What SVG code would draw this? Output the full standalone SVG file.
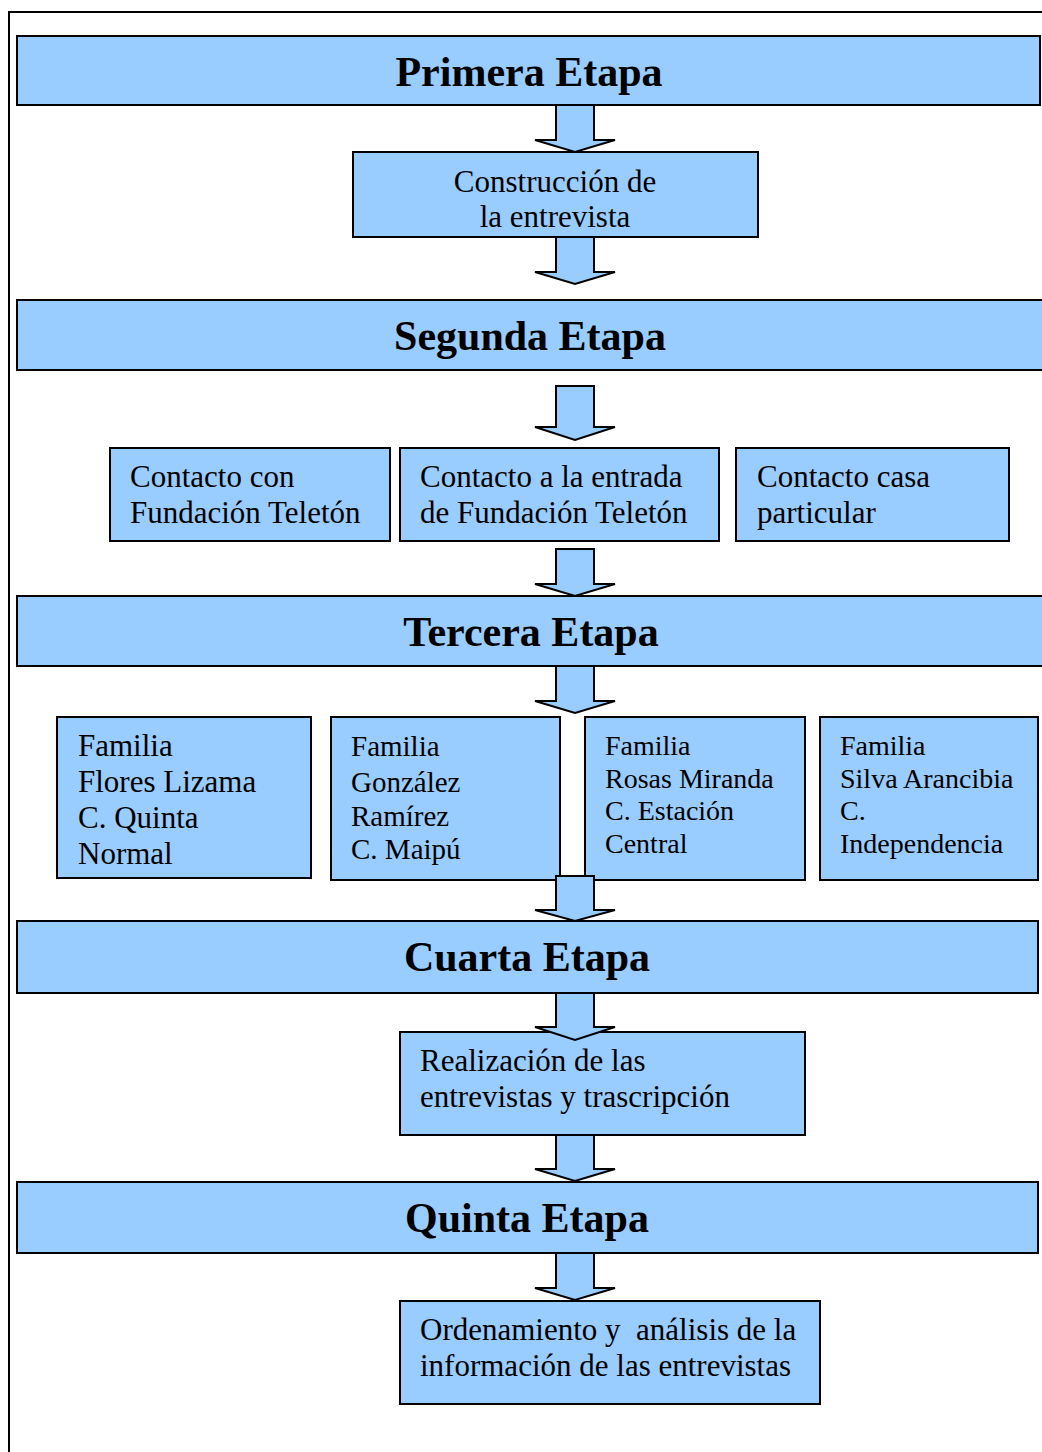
<svg xmlns="http://www.w3.org/2000/svg" width="1042" height="1452" viewBox="0 0 1042 1452">
<style>
.box{fill:#99CCFF;stroke:#000;stroke-width:2}
.arr{fill:#99CCFF;stroke:#000;stroke-width:2;stroke-linejoin:miter}
.title{font-family:"Liberation Serif","Times New Roman",serif;font-weight:bold;font-size:42px;text-anchor:middle;fill:#000}
.t{font-family:"Liberation Serif","Times New Roman",serif;font-size:31px;fill:#000;white-space:pre}
.t29{font-family:"Liberation Serif","Times New Roman",serif;font-size:29px;fill:#000}
.t28{font-family:"Liberation Serif","Times New Roman",serif;font-size:28px;fill:#000}
</style>
<rect width="1042" height="1452" fill="#fff"/>
<path d="M9,1452 V12 H1042" fill="none" stroke="#000" stroke-width="2"/>

<g id="primera"><rect class="box" x="17" y="36" width="1023" height="69"/><text class="title" x="529" y="86">Primera Etapa</text></g>
<g id="construccion"><rect class="box" x="353" y="152" width="405" height="85"/><text class="t" x="555" y="192" text-anchor="middle">Construcción de</text><text class="t" x="555" y="227" text-anchor="middle">la entrevista</text></g>
<g id="segunda"><rect class="box" x="17" y="300" width="1030" height="70"/><text class="title" x="530" y="350">Segunda Etapa</text></g>
<g id="contacto1"><rect class="box" x="110" y="448" width="280" height="93"/><text class="t" x="130" y="487">Contacto con</text><text class="t" x="130" y="523">Fundación Teletón</text></g>
<g id="contacto2"><rect class="box" x="400" y="448" width="319" height="93"/><text class="t" x="420" y="487">Contacto a la entrada</text><text class="t" x="420" y="523">de Fundación Teletón</text></g>
<g id="contacto3"><rect class="box" x="736" y="448" width="273" height="93"/><text class="t" x="757" y="487">Contacto casa</text><text class="t" x="757" y="523">particular</text></g>
<g id="tercera"><rect class="box" x="17" y="596" width="1030" height="70"/><text class="title" x="531" y="646">Tercera Etapa</text></g>
<g id="familia1"><rect class="box" x="57" y="717" width="254" height="161"/><text class="t" x="78" y="756">Familia</text><text class="t" x="78" y="792">Flores Lizama</text><text class="t" x="78" y="828">C. Quinta</text><text class="t" x="78" y="864">Normal</text></g>
<g id="familia2"><rect class="box" x="331" y="717" width="229" height="163"/><text class="t29" x="351" y="756">Familia</text><text class="t29" x="351" y="792">González</text><text class="t29" x="351" y="826">Ramírez</text><text class="t29" x="351" y="859">C. Maipú</text></g>
<g id="familia3"><rect class="box" x="585" y="717" width="220" height="163"/><text class="t28" x="605" y="755">Familia</text><text class="t28" x="605" y="788">Rosas Miranda</text><text class="t28" x="605" y="820">C. Estación</text><text class="t28" x="605" y="853">Central</text></g>
<g id="familia4"><rect class="box" x="820" y="717" width="218" height="163"/><text class="t28" x="840" y="755">Familia</text><text class="t28" x="840" y="788">Silva Arancibia</text><text class="t28" x="840" y="820">C.</text><text class="t28" x="840" y="853">Independencia</text></g>
<g id="cuarta"><rect class="box" x="17" y="921" width="1021" height="72"/><text class="title" x="527" y="971">Cuarta Etapa</text></g>
<g id="realizacion"><rect class="box" x="400" y="1032" width="405" height="103"/><text class="t" x="420" y="1071">Realización de las</text><text class="t" x="420" y="1107">entrevistas y trascripción</text></g>
<g id="quinta"><rect class="box" x="17" y="1182" width="1021" height="71"/><text class="title" x="527" y="1232">Quinta Etapa</text></g>
<g id="ordenamiento"><rect class="box" x="400" y="1301" width="420" height="103"/><text class="t" x="420" y="1340">Ordenamiento y  análisis de la</text><text class="t" x="420" y="1376">información de las entrevistas</text></g>

<g id="connectors">
<polygon class="arr" points="556,105 594,105 594,140 615,140 575,152 535,140 556,140"/>
<polygon class="arr" points="556,237 594,237 594,272 615,272 575,284 535,272 556,272"/>
<polygon class="arr" points="556,386 594,386 594,427 615,427 575,440 535,427 556,427"/>
<polygon class="arr" points="556,549 594,549 594,584 615,584 575,596 535,584 556,584"/>
<polygon class="arr" points="556,666 594,666 594,701 615,701 575,713 535,701 556,701"/>
<polygon class="arr" points="556,876 594,876 594,910 615,910 575,921 535,910 556,910"/>
<polygon class="arr" points="556,993 594,993 594,1027 615,1027 575,1040 535,1027 556,1027"/>
<polygon class="arr" points="556,1135 594,1135 594,1169 615,1169 575,1181 535,1169 556,1169"/>
<polygon class="arr" points="556,1253 594,1253 594,1288 615,1288 575,1300 535,1288 556,1288"/>
</g>
</svg>
